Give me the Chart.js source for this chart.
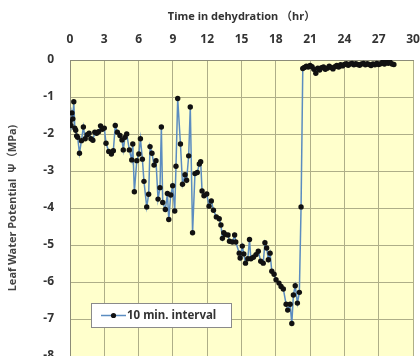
<!DOCTYPE html>
<html>
<head>
<meta charset="utf-8">
<script src="https://cdn.jsdelivr.net/npm/chart.js@4.4.1/dist/chart.umd.min.js"></script>
<style>
  html, body { margin: 0; padding: 0; background: #fff; overflow: hidden; }
  #wrap { width: 420px; height: 372px; position: relative; }
</style>
</head>
<body>
<div id="wrap"><canvas id="chart"></canvas></div>
<script>
// time (hr) and leaf water potential (MPa)
const hours = [
  0.00, 0.08, 0.17, 0.25, 0.33, 0.42, 0.50, 0.58, 0.67, 0.83,
  1.00, 1.17, 1.33, 1.50, 1.67, 1.83, 2.00, 2.17, 2.33, 2.50,
  2.67, 2.83, 3.00, 3.15, 3.39, 3.62, 3.79, 3.96, 4.14, 4.37,
  4.55, 4.66, 4.81, 4.96, 5.19, 5.40, 5.49, 5.63, 5.84, 6.02,
  6.16, 6.33, 6.47, 6.71, 6.88, 7.00, 7.17, 7.35, 7.52, 7.70,
  7.87, 7.99, 8.11, 8.34, 8.52, 8.64, 8.81, 8.98, 9.16, 9.27,
  9.42, 9.66, 9.84, 10.06, 10.20, 10.38, 10.52, 10.72, 10.93, 11.13,
  11.31, 11.43, 11.55, 11.72, 11.96, 12.16, 12.36, 12.55, 12.80, 13.05,
  13.20, 13.33, 13.45, 13.60, 13.82, 13.95, 14.20, 14.40, 14.50, 14.80,
  14.88, 15.07, 15.20, 15.35, 15.55, 15.70, 15.82, 16.04, 16.27, 16.47,
  16.68, 16.90, 17.05, 17.20, 17.35, 17.50, 17.65, 17.85, 18.02, 18.28,
  18.46, 18.66, 18.90, 19.04, 19.25, 19.40, 19.54, 19.70, 19.89, 20.06,
  20.21, 20.36, 20.50, 20.67, 20.83, 21.00, 21.17, 21.33, 21.50, 21.67,
  21.83, 22.00, 22.17, 22.33, 22.50, 22.67, 22.83, 23.00, 23.17, 23.33,
  23.50, 23.67, 23.83, 24.00, 24.17, 24.33, 24.50, 24.67, 24.83, 25.00,
  25.17, 25.33, 25.50, 25.67, 25.83, 26.00, 26.17, 26.33, 26.50, 26.67,
  26.83, 27.00, 27.17, 27.33, 27.50, 27.67, 27.83, 28.00, 28.17, 28.33
];
const potential = [
  -1.66, -1.77, -1.43, -1.59, -1.13, -1.84, -1.90, -2.05, -2.09, -2.52,
  -2.18, -1.81, -2.13, -2.02, -1.98, -2.13, -2.17, -1.95, -1.98, -1.94,
  -1.78, -1.87, -1.84, -2.25, -2.47, -2.54, -2.45, -1.77, -1.95, -2.04,
  -2.16, -2.43, -2.09, -2.00, -2.43, -2.70, -2.27, -3.56, -2.72, -2.54,
  -2.13, -2.68, -3.28, -3.97, -3.63, -2.34, -2.52, -2.84, -2.72, -3.76,
  -3.45, -1.81, -3.85, -4.04, -3.61, -4.31, -3.65, -3.40, -4.08, -2.87,
  -1.04, -2.27, -3.36, -3.10, -3.25, -2.59, -1.27, -4.67, -3.07, -3.04,
  -2.81, -2.75, -3.54, -3.67, -3.62, -3.95, -3.81, -4.06, -4.24, -4.29,
  -4.46, -4.82, -4.67, -4.72, -4.73, -4.90, -4.92, -4.73, -4.92, -5.22,
  -5.35, -5.03, -5.24, -5.49, -5.37, -4.85, -5.37, -5.33, -5.26, -5.17,
  -5.44, -5.49, -4.94, -5.08, -5.40, -5.22, -5.71, -5.79, -5.94, -6.03,
  -6.12, -6.19, -6.60, -6.76, -6.60, -7.12, -6.35, -6.10, -6.57, -6.28,
  -3.97, -0.23, -0.20, -0.17, -0.19, -0.15, -0.18, -0.25, -0.36, -0.22,
  -0.27, -0.21, -0.19, -0.25, -0.22, -0.17, -0.20, -0.24, -0.18, -0.15,
  -0.19, -0.13, -0.16, -0.12, -0.10, -0.14, -0.11, -0.09, -0.13, -0.10,
  -0.12, -0.14, -0.11, -0.09, -0.13, -0.10, -0.12, -0.15, -0.11, -0.13,
  -0.09, -0.12, -0.10, -0.06, -0.11, -0.04, -0.09, -0.06, -0.11, -0.12
];
const seriesLabel = '10 min. interval';

const fontFamily = '"Noto Sans", "Noto Sans CJK JP", sans-serif';

// 黄色のプロットエリアと凡例
const plotBackground = {
  id: 'plotBackground',
  beforeDraw(chart) {
    const { ctx, chartArea: a } = chart;
    ctx.save();
    ctx.fillStyle = '#ffffcc';
    ctx.fillRect(a.left, a.top, a.right - a.left, a.bottom - a.top);
    ctx.restore();
  },
  afterDatasetsDraw(chart) {
    const { ctx, chartArea: a } = chart;
    // legend box inside the plot
    const x = a.left + 21, y = a.top + 243, w = 140, h = 24;
    ctx.save();
    ctx.fillStyle = '#ffffff';
    ctx.fillRect(x, y, w, h);
    ctx.strokeStyle = '#8a8a8a';
    ctx.lineWidth = 1;
    ctx.strokeRect(x + 0.5, y + 0.5, w, h);
    ctx.strokeStyle = '#5b8cc0';
    ctx.lineWidth = 1.5;
    ctx.beginPath();
    ctx.moveTo(x + 10, y + h / 2 + 0.5);
    ctx.lineTo(x + 35, y + h / 2 + 0.5);
    ctx.stroke();
    ctx.fillStyle = '#111';
    ctx.beginPath();
    ctx.arc(x + 22.5, y + h / 2 + 0.5, 2.6, 0, Math.PI * 2);
    ctx.fill();
    ctx.fillStyle = '#333';
    ctx.font = 'bold 11.5px ' + fontFamily;
    ctx.textBaseline = 'middle';
    ctx.fillText(seriesLabel, x + 36, y + h / 2 + 1);
    ctx.restore();
  }
};

const points = hours.map((h, i) => ({ x: h, y: potential[i] }));

new Chart(document.getElementById('chart'), {
  type: 'line',
  data: {
    datasets: [{
      label: seriesLabel,
      data: points,
      borderColor: '#5b8cc0',
      borderWidth: 1.5,
      pointRadius: 2.7,
      pointBackgroundColor: '#111',
      pointBorderWidth: 0,
      tension: 0
    }]
  },
  options: {
    responsive: true,
    maintainAspectRatio: false,
    animation: false,
    layout: { padding: { left: 0, right: 7, top: 0, bottom: 16 } },
    plugins: { legend: { display: false }, tooltip: { enabled: false } },
    scales: {
      x: {
        type: 'linear',
        position: 'top',
        min: 0, max: 30,
        ticks: {
          stepSize: 3,
          color: '#333',
          padding: 13,
          maxRotation: 0,
          font: { family: fontFamily, size: 12, weight: 'bold' }
        },
        grid: { color: '#aeae88', lineWidth: 1, drawTicks: false },
        border: { color: '#8c8c78' },
        title: {
          display: true,
          text: 'Time in dehydration （hr）',
          color: '#333',
          padding: { top: 10, bottom: 7 },
          font: { family: fontFamily, size: 11, weight: 'bold' }
        },
        afterFit(scale) {
          scale.height = 60;
          scale.paddingLeft = 0;
          scale.paddingRight = 0;
        }
      },
      y: {
        min: -8, max: 0,
        ticks: {
          stepSize: 1,
          color: '#333',
          padding: 16,
          font: { family: fontFamily, size: 12, weight: 'bold' }
        },
        grid: { color: '#aeae88', lineWidth: 1, drawTicks: false },
        border: { color: '#8c8c78' },
        title: {
          display: true,
          text: 'Leaf Water Potential  Ψ（MPa)',
          color: '#444',
          padding: { top: 6, bottom: 0 },
          font: { family: fontFamily, size: 11, weight: 'bold' }
        },
        afterFit(scale) {
          scale.width = 70;
          scale.paddingTop = 0;
          scale.paddingBottom = 0;
        }
      }
    }
  },
  plugins: [plotBackground]
});
</script>
</body>
</html>
